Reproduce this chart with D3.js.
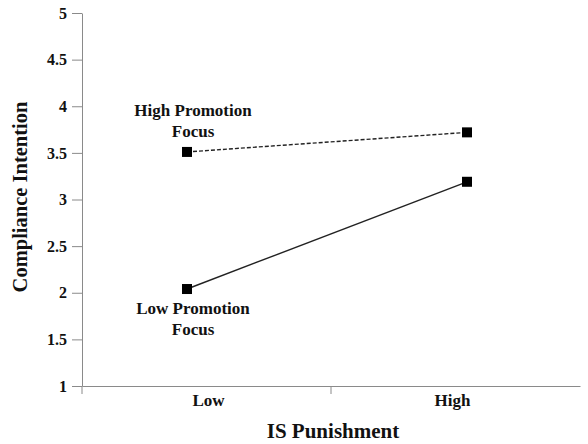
<!DOCTYPE html>
<html><head><meta charset="utf-8">
<script src="https://cdn.jsdelivr.net/npm/d3@7/dist/d3.min.js"></script>
<style>body{margin:0;background:#fff}svg{display:block}text{font-family:"Liberation Serif","Times New Roman",serif;font-weight:bold;fill:#111}</style>
</head><body><svg id="c" width="588" height="444"></svg>
<script>
const categories = ["Low", "High"];
const highPromotion = [3.51, 3.72];
const lowPromotion = [2.04, 3.19];
const yTicks = [1, 1.5, 2, 2.5, 3, 3.5, 4, 4.5, 5];
const seriesNames = ["High Promotion Focus", "Low Promotion Focus"];

const svg = d3.select("#c");
const x0 = 82, x1 = 580, yTop = 13, yBot = 386;
const y = d3.scaleLinear().domain([1, 5]).range([yBot, yTop]);
const xBand = d3.scaleBand().domain(categories).range([x0, x1]);
const xPt = d3.scalePoint().domain(categories).range([187, 467]);
const axisColor = "#8a8a8a";

// y axis
const yAxis = svg.append("g").attr("transform", `translate(${x0},0)`)
  .call(d3.axisLeft(y).tickValues(yTicks).tickFormat(d3.format("")).tickSize(10).tickSizeOuter(0));
yAxis.attr("font-family", null).attr("font-size", null);
yAxis.select(".domain").attr("stroke", axisColor);
yAxis.selectAll(".tick line").attr("stroke", axisColor);
yAxis.selectAll(".tick text").attr("x", -15).attr("font-size", 16).attr("fill", "#111");

// x axis
const xAxis = svg.append("g").attr("transform", `translate(0,${yBot})`)
  .call(d3.axisBottom(xBand).tickValues([]).tickSizeOuter(0));
xAxis.select(".domain").attr("stroke", axisColor);
svg.append("g").selectAll("line").data([x0, (x0 + x1) / 2])
  .join("line").attr("x1", d => d).attr("x2", d => d).attr("y1", yBot).attr("y2", yBot + 8)
  .attr("stroke", axisColor);
svg.append("g").selectAll("text").data(categories).join("text")
  .attr("x", d => xBand(d) + xBand.bandwidth() / 2 - melt(d))
  .attr("y", 406).attr("text-anchor", "middle").attr("font-size", 17).text(d => d);
function melt(d) { return d === "Low" ? -2 : 3; }

// titles
svg.append("text").attr("x", 333).attr("y", 438).attr("text-anchor", "middle").attr("font-size", 21).text("IS Punishment");
svg.append("text").attr("transform", "translate(27,197) rotate(-90)").attr("text-anchor", "middle").attr("font-size", 20.5).text("Compliance Intention");

// lines
const line = d3.line().x((d, i) => xPt(categories[i])).y(d => y(d));
svg.append("path").datum(highPromotion).attr("d", line).attr("fill", "none").attr("stroke", "#222").attr("stroke-width", 1.4).attr("stroke-dasharray", "4,2");
svg.append("path").datum(lowPromotion).attr("d", line).attr("fill", "none").attr("stroke", "#222").attr("stroke-width", 1.4);

[highPromotion, lowPromotion].forEach(s => {
  svg.append("g").selectAll("rect").data(s).join("rect")
    .attr("x", (d, i) => xPt(categories[i]) - 5).attr("y", d => y(d) - 5)
    .attr("width", 10).attr("height", 10).attr("fill", "#000");
});

// annotations
const ann = [
  { lines: ["High Promotion", "Focus"], x: 193, y: 116 },
  { lines: ["Low Promotion", "Focus"], x: 193, y: 314 }
];
ann.forEach(a => {
  a.lines.forEach((t, i) => svg.append("text").attr("x", a.x).attr("y", a.y + i * 21)
    .attr("text-anchor", "middle").attr("font-size", 17).text(t));
});
</script></body></html>
